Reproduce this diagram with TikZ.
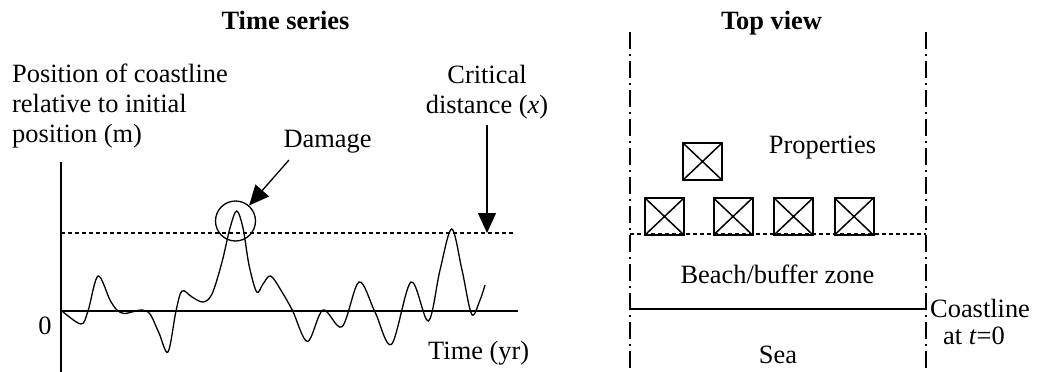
\documentclass[tikz,border=0pt]{standalone}
\usepackage{fontspec}
\setmainfont{Liberation Serif}
\usetikzlibrary{arrows.meta}
\begin{document}
\begin{tikzpicture}[x=1pt,y=-1pt,
  txt/.style={inner sep=0pt, font=\fontsize{26.4}{30}\selectfont},
  ttl/.style={inner sep=0pt, anchor=base, font=\fontsize{26.4}{30}\selectfont\bfseries},
  thinln/.style={line width=1.3pt},
  axisln/.style={line width=1.9pt},
  dashln/.style={line width=1.2pt, dash pattern=on 4pt off 3pt},
  dashdotln/.style={line width=1.9pt, dash pattern=on 17pt off 5pt on 2pt off 5pt},
  bigarrow/.style={line width=1.3pt, -{Triangle[length=20pt,width=18pt]}},
  propbox/.style={draw, line width=2pt, minimum width=39pt, minimum height=37pt, inner sep=0pt,
    path picture={\draw[line width=1.5pt] (path picture bounding box.north west) -- (path picture bounding box.south east)
      (path picture bounding box.north east) -- (path picture bounding box.south west);}},
]
\useasboundingbox (0,0) rectangle (1044,372);

% ---------- Time series ----------
\node[ttl] (tstitle) at (285.5,29) {Time series};
\node[txt, anchor=base west] (ylab1) at (12,82) {Position of coastline};
\node[txt, anchor=base west] (ylab2) at (12,112) {relative to initial};
\node[txt, anchor=base west] (ylab3) at (12,142) {position (m)};
\node[txt, anchor=base] (zero) at (45,334) {0};
\node[txt, anchor=base west] (xlab) at (428,359) {Time (yr)};
\node[txt, anchor=base] (dmg) at (327.5,147) {Damage};
\node[txt, anchor=base] (crit1) at (487,83) {Critical};
\node[txt, anchor=base] (crit2) at (487,113) {distance (\textit{x})};

\coordinate (yaxtop) at (61,162);
\coordinate (yaxbot) at (61,372);
\coordinate (zl) at (61,311);
\coordinate (zr) at (518,311);
\coordinate (dl) at (61,233);
\coordinate (dr) at (513,233);
\draw[axisln] (yaxtop) -- (yaxbot);
\draw[axisln] (zl) -- (zr);
\draw[dashln] (dl) -- (dr);

\draw[thinln] plot[smooth, tension=0.55] coordinates {
 (62,311) (81,324) (88,311) (98,276) (110,300) (117,310) (124,313.5) (134,311.5) (142,310)
 (150,314) (159,333) (168,352) (176,311) (182,291) (192,297) (203,302) (212,294)
 (222,262) (230,228) (236.7,211) (243,228) (249,265) (256.7,292) (263,284) (270.7,276)
 (282,292) (292.7,311) (307.5,341.5) (323,310) (342,326.7) (359,282) (375,312)
 (391.5,344.3) (411,282) (428.3,321) (440,270) (451.7,229) (462,270) (471.7,314.3)
 (480,300) (485,285)};

\node[draw, circle, thinln, minimum size=40pt, inner sep=0pt] (dmgcircle) at (235.5,221) {};
\coordinate (dmgstart) at (289,160);
\draw[bigarrow] (dmgstart) -- (dmgcircle);

\coordinate (critstart) at (487,125);
\coordinate (crittip) at (487,233);
\draw[bigarrow] (critstart) -- (crittip);

% ---------- Top view ----------
\node[ttl] (tvtitle) at (771.5,29) {Top view};
\coordinate (lbtop) at (630,32);
\coordinate (lbbot) at (630,372);
\coordinate (rbtop) at (926,32);
\coordinate (rbbot) at (926,372);
\draw[dashdotln] (lbtop) -- (lbbot);
\draw[dashdotln] (rbtop) -- (rbbot);

\coordinate (bdl) at (630,234);
\coordinate (bdr) at (926,234);
\draw[dashln] (bdl) -- (bdr);
\coordinate (csl) at (630,309);
\coordinate (csr) at (926,309);
\draw[line width=1.6pt] (csl) -- (csr);

\node[propbox] (p0) at (702.5,161.5) {};
\node[propbox] (p1) at (664.5,216.5) {};
\node[propbox] (p2) at (733,216.5) {};
\node[propbox] (p3) at (793.5,216.5) {};
\node[propbox] (p4) at (854,216.5) {};

\node[txt, anchor=base] (props) at (822.5,153) {Properties};
\node[txt, anchor=base] (beach) at (777.5,283) {Beach/buffer zone};
\node[txt, anchor=base] (sea) at (778,363) {Sea};
\node[txt, anchor=base west] (coast1) at (930,317) {Coastline};
\node[txt, anchor=base west] (coast2) at (943,344) {at \textit{t}=0};
\end{tikzpicture}
\end{document}
